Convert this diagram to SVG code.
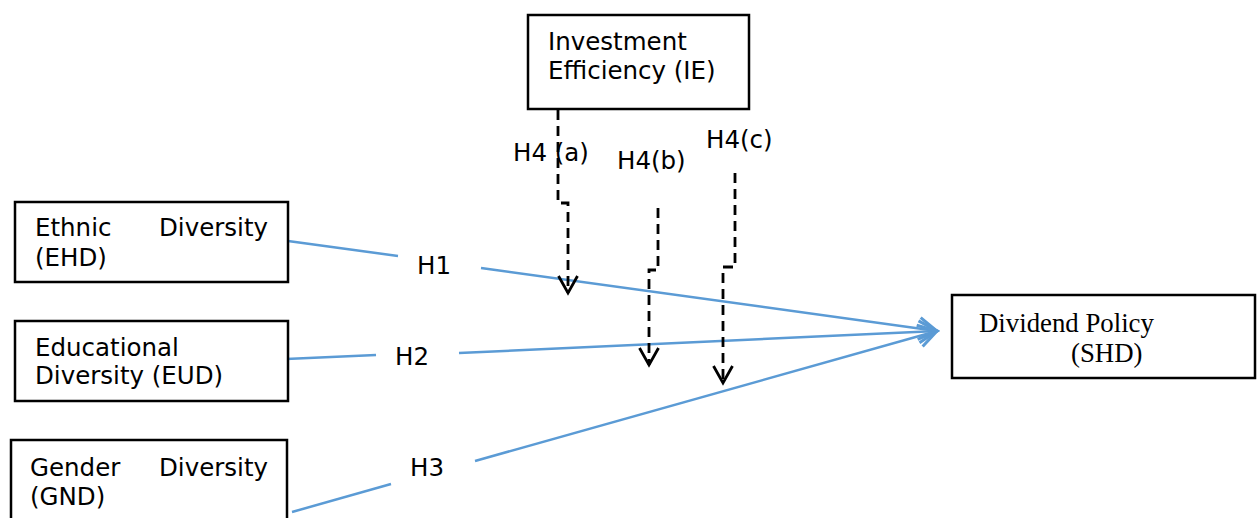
<svg xmlns="http://www.w3.org/2000/svg" width="1258" height="518" viewBox="0 0 1258 518">
<style>
.box{fill:#fff;stroke:#000;stroke-width:2.5}
.t{font-family:"DejaVu Sans",Verdana,sans-serif;font-size:24.5px;fill:#000}
.ts{font-family:"Liberation Serif","Times New Roman",serif;font-size:26.8px;fill:#000}
.blue{fill:none;stroke:#5B9BD5;stroke-width:2.5}
.dash{fill:none;stroke:#000;stroke-width:2.8;stroke-dasharray:10 6}
</style>
<defs>
<marker id="ab" markerUnits="userSpaceOnUse" markerWidth="40" markerHeight="40" viewBox="-20 -20 40 40" refX="0" refY="0" orient="auto">
<path d="M-18,-11 L0,0 L-18,11" fill="none" stroke="#5B9BD5" stroke-width="3"/>
</marker>
<marker id="ak" markerUnits="userSpaceOnUse" markerWidth="40" markerHeight="40" viewBox="-20 -20 40 40" refX="0" refY="0" orient="auto">
<path d="M-17,-9.5 L0,0 L-17,9.5" fill="none" stroke="#000" stroke-width="2.8"/>
</marker>
</defs>
<g id="connectors">
<path class="blue" d="M288,241 L398,256"/>
<path class="blue" d="M481,268 L937,331" marker-end="url(#ab)"/>
<path class="blue" d="M286,359 L376,355"/>
<path class="blue" d="M459,353 L937,331" marker-end="url(#ab)"/>
<path class="blue" d="M292,512 L391,484"/>
<path class="blue" d="M475,461 L937,331" marker-end="url(#ab)"/>
<path class="dash" d="M558,110 V203 H568 V293" marker-end="url(#ak)"/>
<path class="dash" d="M658,208 V270 H649 V365" marker-end="url(#ak)"/>
<path class="dash" d="M735,173 V267 H723 V383" marker-end="url(#ak)"/>
<text class="t" x="417" y="274">H1</text>
<text class="t" x="395" y="365">H2</text>
<text class="t" x="410" y="476">H3</text>
<text class="t" x="513" y="161">H4 (a)</text>
<text class="t" x="617" y="169">H4(b)</text>
<text class="t" x="706" y="148">H4(c)</text>
</g>
<g id="IE">
<rect class="box" x="528" y="15" width="221" height="94"/>
<text class="t" x="548" y="50">Investment</text>
<text class="t" x="548" y="79">Efficiency (IE)</text>
</g>
<g id="EHD">
<rect class="box" x="15" y="202" width="273" height="80"/>
<text class="t" x="35" y="236">Ethnic</text>
<text class="t" x="268" y="236" text-anchor="end">Diversity</text>
<text class="t" x="35" y="266">(EHD)</text>
</g>
<g id="EUD">
<rect class="box" x="15" y="321" width="273" height="80"/>
<text class="t" x="35" y="356">Educational</text>
<text class="t" x="35" y="384">Diversity (EUD)</text>
</g>
<g id="GND">
<rect class="box" x="11" y="440" width="276" height="90"/>
<text class="t" x="30" y="476">Gender</text>
<text class="t" x="268" y="476" text-anchor="end">Diversity</text>
<text class="t" x="30" y="505">(GND)</text>
</g>
<g id="SHD">
<rect class="box" x="952" y="295" width="303" height="83"/>
<text class="ts" x="979" y="332">Dividend Policy</text>
<text class="ts" x="1071" y="362">(SHD)</text>
</g>
</svg>
